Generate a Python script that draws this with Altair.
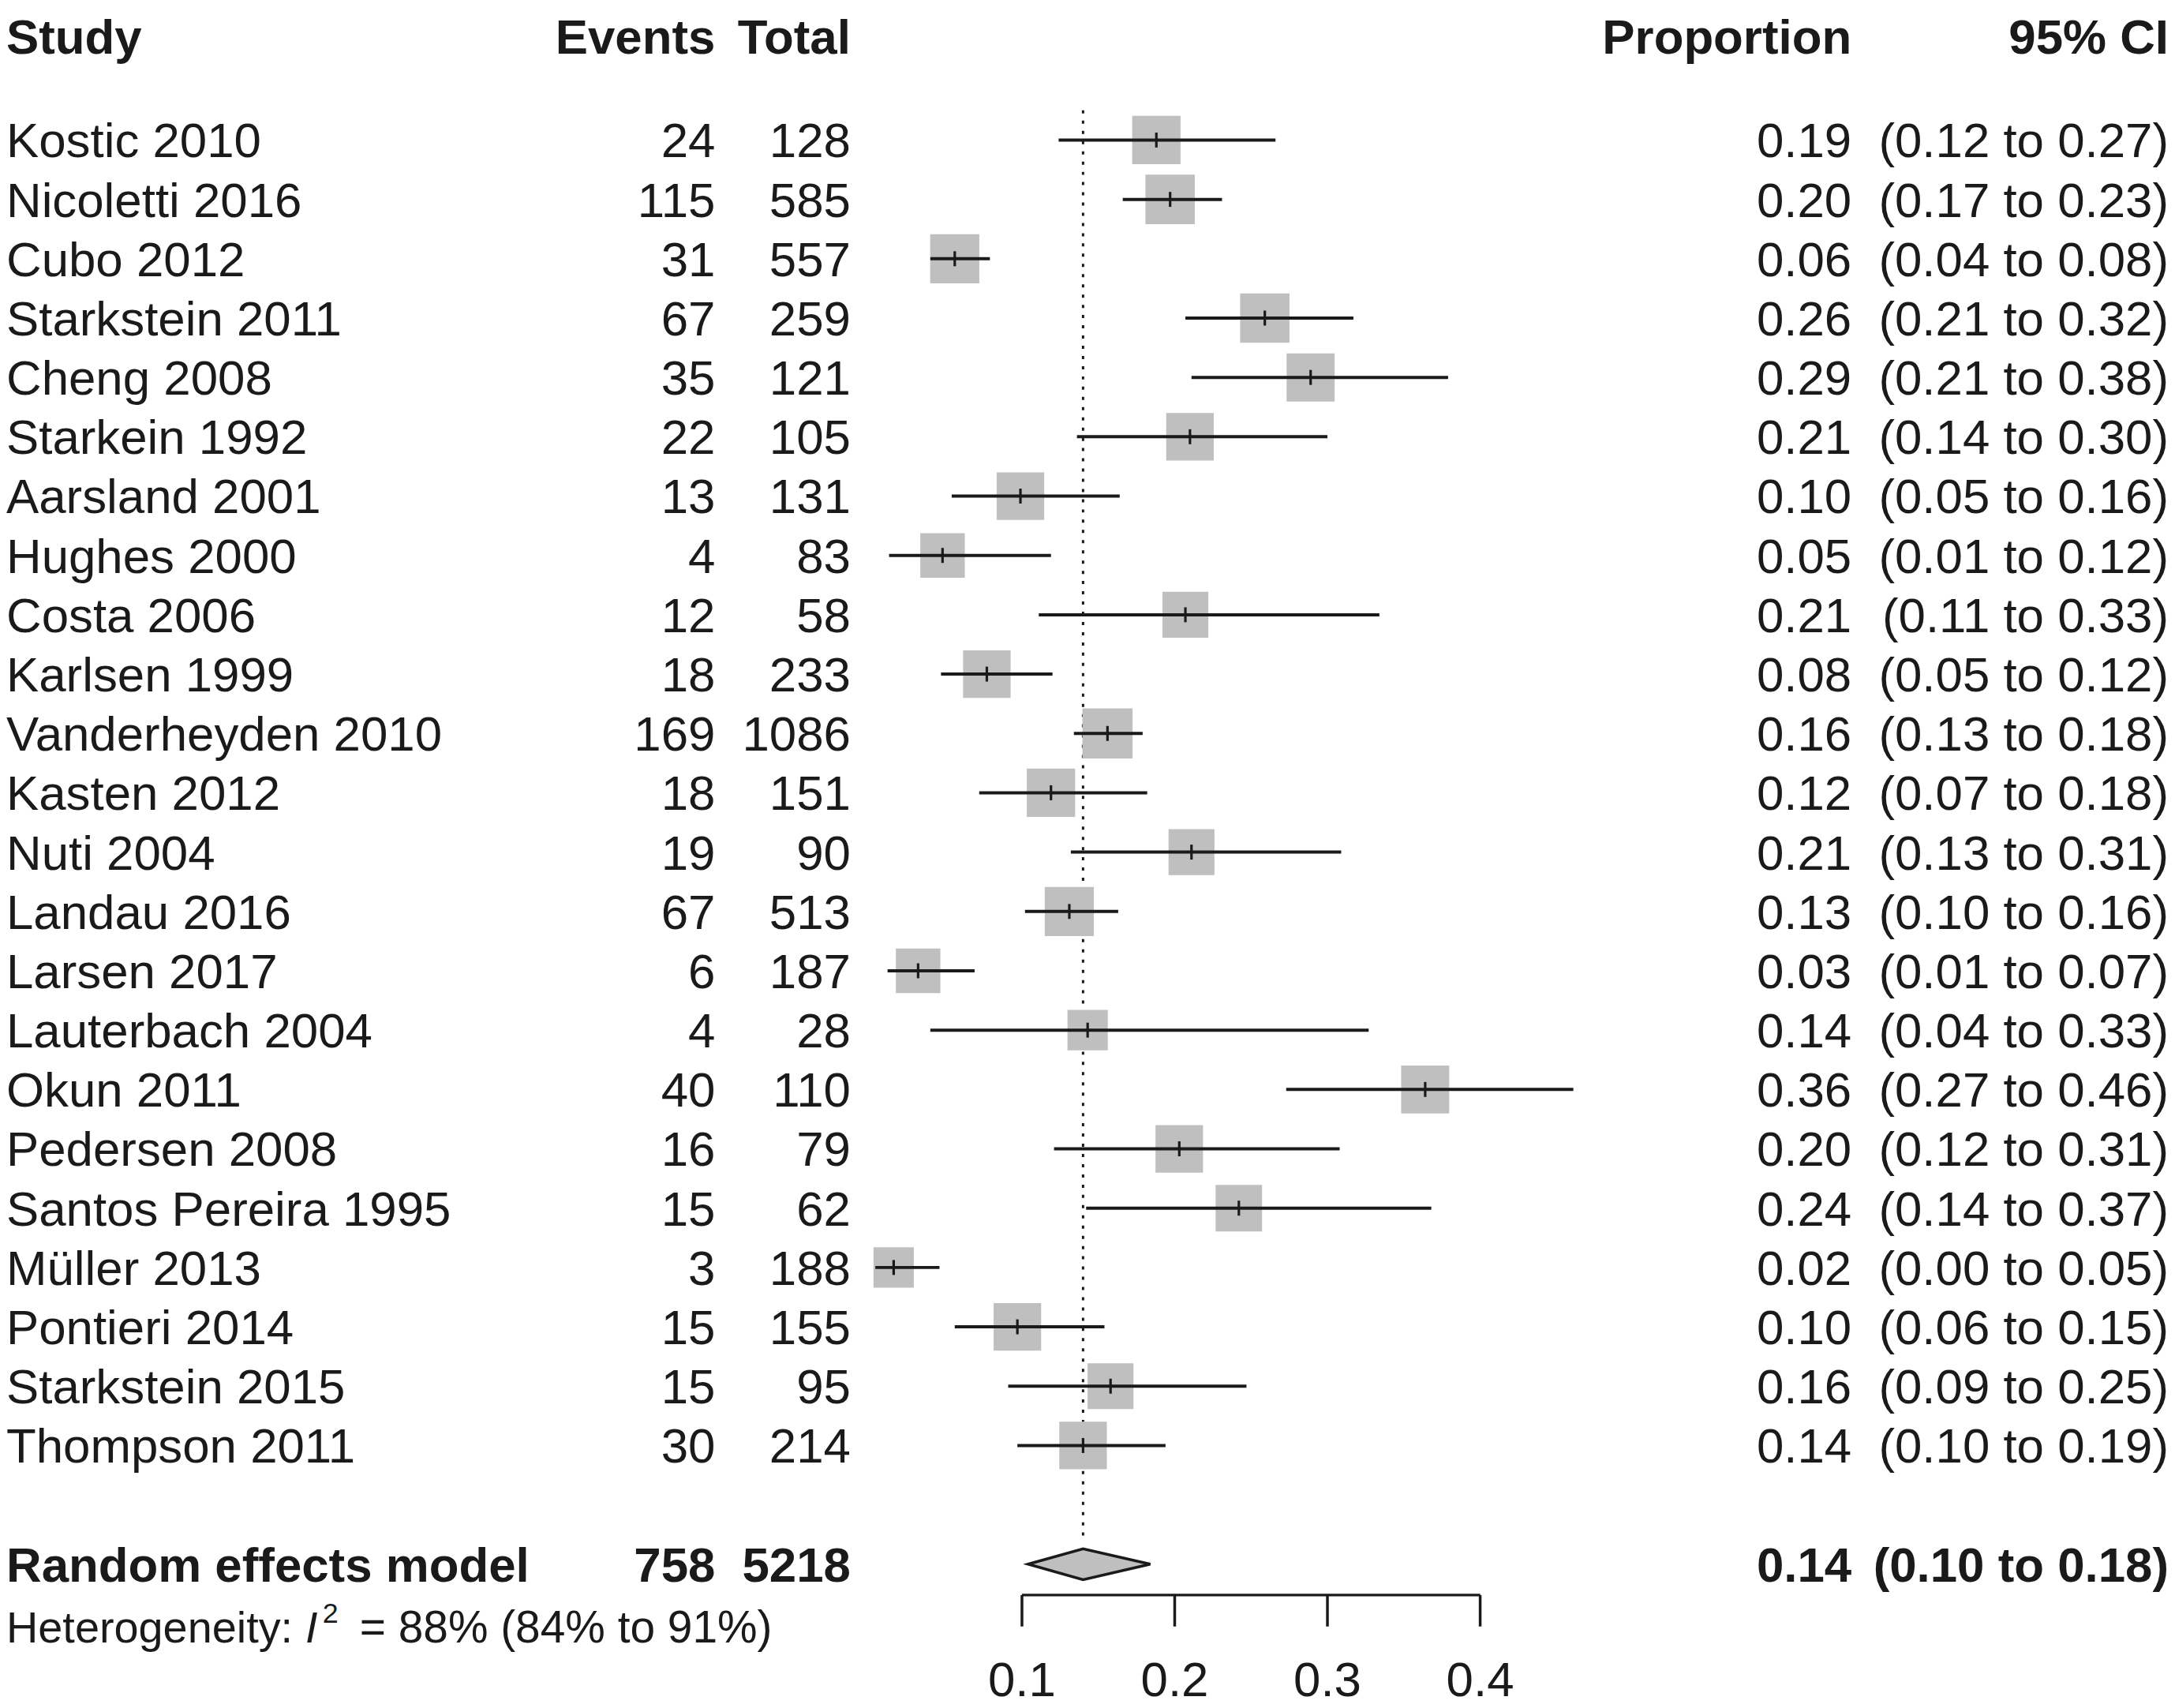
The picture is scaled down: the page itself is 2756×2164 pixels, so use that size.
import altair as alt
import pandas as pd

# ---------------- data ----------------
studies = ["Kostic 2010", "Nicoletti 2016", "Cubo 2012", "Starkstein 2011", "Cheng 2008",
           "Starkein 1992", "Aarsland 2001", "Hughes 2000", "Costa 2006", "Karlsen 1999",
           "Vanderheyden 2010", "Kasten 2012", "Nuti 2004", "Landau 2016", "Larsen 2017",
           "Lauterbach 2004", "Okun 2011", "Pedersen 2008", "Santos Pereira 1995",
           "Müller 2013", "Pontieri 2014", "Starkstein 2015", "Thompson 2011"]
events = [24, 115, 31, 67, 35, 22, 13, 4, 12, 18, 169, 18, 19, 67, 6, 4, 40, 16, 15, 3, 15, 15, 30]
totals = [128, 585, 557, 259, 121, 105, 131, 83, 58, 233, 1086, 151, 90, 513, 187, 28, 110, 79,
          62, 188, 155, 95, 214]
proportion = [0.188, 0.197, 0.056, 0.259, 0.289, 0.210, 0.099, 0.048, 0.207, 0.077, 0.156, 0.119,
              0.211, 0.131, 0.032, 0.143, 0.364, 0.203, 0.242, 0.016, 0.097, 0.158, 0.140]
ci_lower = [0.124, 0.166, 0.040, 0.207, 0.211, 0.136, 0.054, 0.013, 0.111, 0.047, 0.134, 0.072,
            0.132, 0.102, 0.012, 0.040, 0.273, 0.121, 0.142, 0.004, 0.056, 0.091, 0.097]
ci_upper = [0.266, 0.231, 0.079, 0.317, 0.379, 0.300, 0.164, 0.119, 0.334, 0.120, 0.179, 0.182,
            0.309, 0.163, 0.069, 0.327, 0.461, 0.308, 0.368, 0.046, 0.154, 0.247, 0.194]
weights = [4.6, 4.8, 4.75, 4.8, 4.55, 4.45, 4.45, 3.9, 4.15, 4.45, 4.95, 4.6, 4.15, 4.75, 3.9,
           3.2, 4.55, 4.45, 4.25, 3.2, 4.45, 4.15, 4.45]

pooled_label = "Random effects model"
pooled_events = 758
pooled_total = 5218
pooled_est = 0.140
pooled_lower = 0.104
pooled_upper = 0.184

header = {"study": "Study", "events": "Events", "total": "Total",
          "prop": "Proportion", "ci": "95% CI"}
het_prefix = "Heterogeneity: "
het_symbol = "I"
het_power = "2"
het_rest = "= 88% (84% to 91%)"

axis_ticks = [0.1, 0.2, 0.3, 0.4]

# ---------------- tables ----------------
n = len(studies)
study_df = pd.DataFrame({
    "row": list(range(1, n + 1)),
    "study": studies,
    "events": [str(e) for e in events],
    "total": [str(t) for t in totals],
    "prop": proportion,
    "lo": ci_lower,
    "hi": ci_upper,
    "w": weights,
})
study_df["prop_txt"] = [f"{v:.2f}" for v in proportion]
study_df["ci_txt"] = [f"({a:.2f} to {b:.2f})" for a, b in zip(ci_lower, ci_upper)]

bold_df = pd.DataFrame({
    "row": [-0.75, 25],
    "study": [header["study"], pooled_label],
    "events": [header["events"], str(pooled_events)],
    "total": [header["total"], str(pooled_total)],
    "prop_txt": [header["prop"], f"{pooled_est:.2f}"],
    "ci_txt": [header["ci"], f"({pooled_lower:.2f} to {pooled_upper:.2f})"],
})

pooled_df = pd.DataFrame({"est": [pooled_est], "top": [0.5], "bottom": [24.6]})
diamond_df = pd.DataFrame({
    "x": [pooled_lower, pooled_est, pooled_upper],
    "ytop": [25.0, 24.74, 25.0],
    "ybot": [25.0, 25.26, 25.0],
})
axis_df = pd.DataFrame({"lo": [min(axis_ticks)], "hi": [max(axis_ticks)], "row": [25.52]})
tick_df = pd.DataFrame({"t": axis_ticks, "lab": [f"{t:.1f}" for t in axis_ticks],
                        "row": [25.52] * len(axis_ticks), "row2": [26.05] * len(axis_ticks),
                        "labrow": [26.93] * len(axis_ticks)})
het_df = pd.DataFrame({"row": [26.05], "a": [het_prefix], "b": [het_symbol], "c": [het_power],
                       "d": [het_rest]})

# ---------------- layout ----------------
W, H = 2748, 2156
FONT = "Liberation Sans"
TXT = "#1a1a1a"
LINE = "#1a1a1a"
BOX = "#bfbfbf"
FS = 62

xs = alt.Scale(domain=[-0.56497, 0.85079], nice=False, zero=False)
ys = alt.Scale(domain=[-1.2122, 27.382], nice=False, zero=False, reverse=True)


def Y(field):
    return alt.Y(f"{field}:Q", scale=ys, axis=None)


def X(field):
    return alt.X(f"{field}:Q", scale=xs, axis=None)


def text_layer(df, field, xpx, align, bold=False, size=FS, dy=22, italic=False):
    kw = dict(align=align, baseline="alphabetic", dy=dy, font=FONT, fontSize=size,
              fontWeight="bold" if bold else "normal", color=TXT)
    if italic:
        kw["fontStyle"] = "italic"
    return alt.Chart(df).mark_text(**kw).encode(
        x=alt.value(xpx), y=Y("row"), text=f"{field}:N")


layers = []

# reference (pooled) dotted line
layers.append(alt.Chart(pooled_df).mark_rule(strokeDash=[4, 9], strokeWidth=3, color=LINE).encode(
    x=X("est"), y=Y("top"), y2="bottom:Q"))

# weight squares
layers.append(alt.Chart(study_df).mark_square(color=BOX, opacity=1, strokeWidth=0).encode(
    x=X("prop"), y=Y("row"),
    size=alt.Size("w:Q", scale=alt.Scale(domain=[0, 5], range=[0, 4100], zero=True), legend=None)))

# CI lines
layers.append(alt.Chart(study_df).mark_rule(strokeWidth=4, color=LINE).encode(
    x=X("lo"), x2="hi:Q", y=Y("row")))

# estimate ticks
layers.append(alt.Chart(study_df).mark_tick(orient="vertical", size=19, thickness=3.2, color=LINE,
                                            opacity=1).encode(x=X("prop"), y=Y("row")))

# diamond
layers.append(alt.Chart(diamond_df).mark_area(fill=BOX, stroke=LINE, strokeWidth=3.5,
                                              opacity=1).encode(
    x=X("x"), y=Y("ytop"), y2="ybot:Q"))

# axis
layers.append(alt.Chart(axis_df).mark_rule(strokeWidth=3.5, color=LINE).encode(
    x=X("lo"), x2="hi:Q", y=Y("row")))
layers.append(alt.Chart(tick_df).mark_rule(strokeWidth=3.5, color=LINE).encode(
    x=X("t"), y=Y("row"), y2="row2:Q"))
layers.append(alt.Chart(tick_df).mark_text(align="center", baseline="alphabetic", dy=22, font=FONT,
                                           fontSize=FS, color=TXT).encode(
    x=X("t"), y=Y("labrow"), text="lab:N"))

# text columns
cols = [("study", 0, "left"), ("events", 901, "right"), ("total", 1073, "right"),
        ("prop_txt", 2345, "right"), ("ci_txt", 2748, "right")]
for field, px, al in cols:
    layers.append(text_layer(study_df, field, px, al))
    layers.append(text_layer(bold_df, field, px, al, bold=True))

# heterogeneity
layers.append(text_layer(het_df, "a", 0, "left", size=56, dy=20))
layers.append(text_layer(het_df, "b", 380, "left", size=56, dy=20, italic=True))
layers.append(text_layer(het_df, "c", 402, "left", size=36, dy=-5))
layers.append(text_layer(het_df, "d", 449, "left", size=57, dy=20))

chart = alt.layer(*layers).properties(
    width=W, height=H, padding=0, autosize=alt.AutoSizeParams(type="none")
).configure_view(stroke=None)

chart.save("out.html", embed_options={"renderer": "svg", "actions": False})
